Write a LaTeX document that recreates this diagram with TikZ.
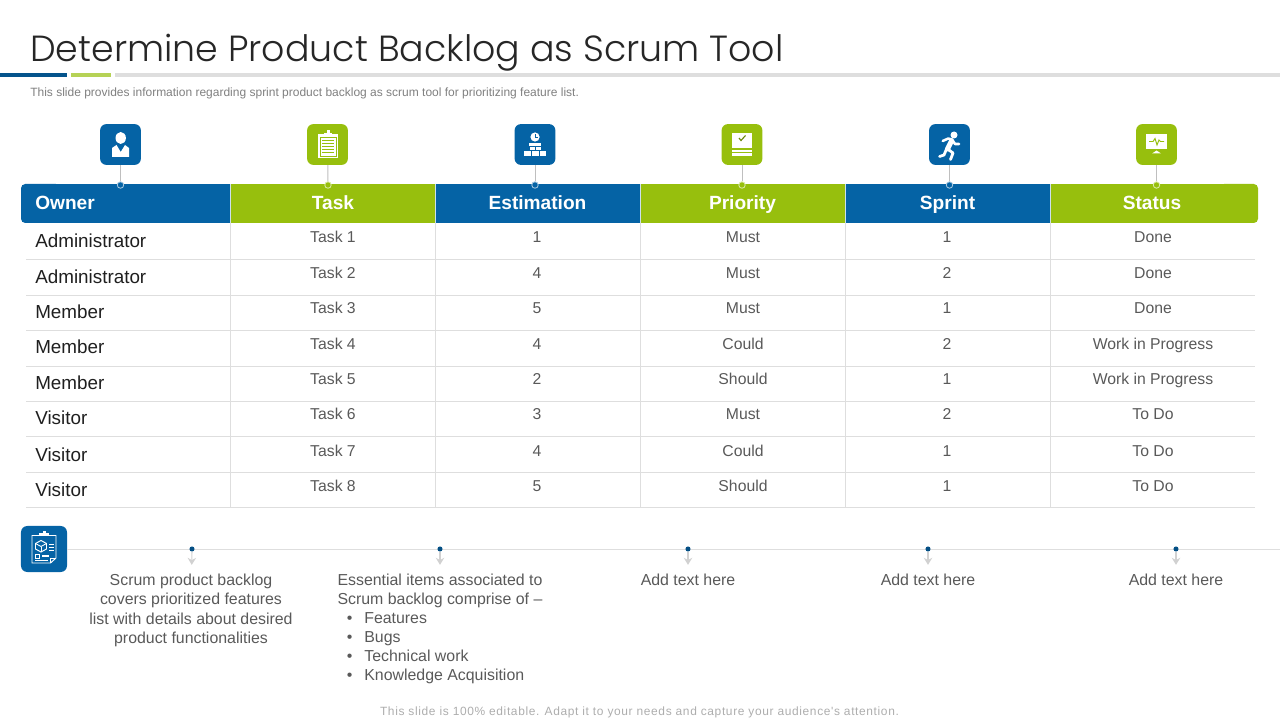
\documentclass[tikz,border=0pt]{standalone}
\usepackage{fontspec}
\usepackage{xcolor}
\setmainfont{Liberation Sans}
\newfontfamily\titlefont[UprightFont={* Light}]{Poppins}
\newfontfamily\footfont[LetterSpace=5.3]{Liberation Sans}
\usetikzlibrary{positioning,calc,arrows.meta}
\definecolor{scrumblue}{HTML}{0563A5}
\definecolor{scrumgreen}{HTML}{97BF0D}
\definecolor{rulegray}{HTML}{DEDEDE}
\definecolor{celltext}{HTML}{595959}
\tikzset{
    cell/.style={anchor=base,inner sep=0pt,text=celltext,font=\fontsize{11.2}{13.5}\selectfont},
    owner/.style={anchor=base west,inner sep=0pt,text=black!88,font=\fontsize{13.4}{16}\selectfont},
    headcell/.style={anchor=base,inner sep=0pt,text=white,font=\fontsize{13.6}{16}\selectfont\bfseries},
    note/.style={anchor=north,inner sep=0pt,align=center,text=celltext,font=\fontsize{11.3}{13.65}\selectfont},
    iconbox/.style={draw=none,rounded corners=4.5pt,minimum size=1.02cm,inner sep=0pt},
    pin/.style={circle,draw=#1!35!white,fill=#1,line width=.6pt,minimum size=4.6pt,inner sep=0pt},
    marker/.style={circle,fill=scrumblue!80!black,minimum size=3.6pt,inner sep=0pt},
    stem/.style={draw=black!25,line width=.7pt},
    tablerule/.style={draw=rulegray,line width=.7pt},
    droparrow/.style={draw=black!18,line width=.8pt,-{Stealth[length=5pt,width=6pt]},shorten >=6.5pt}
}
\begin{document}
\begin{tikzpicture}[x=0.025cm,y=-0.025cm]
        \useasboundingbox (0,0) rectangle (1280,720);
        % title block
        \node[anchor=base west,inner sep=0pt,text=black!85,font=\fontsize{25.85}{30}\selectfont\titlefont] (title) at (30,61.5) {Determine Product Backlog as Scrum Tool};
        \fill[scrumblue!85!black] (0,73) rectangle (67,77);
        \fill[scrumgreen!70!white] (71,73) rectangle (111,77);
        \fill[rulegray] (115,73) rectangle (1280,77);
        \node[anchor=base west,inner sep=0pt,text=black!50,font=\fontsize{8.53}{10}\selectfont] (subtitle) at (30,97) {This slide provides information regarding sprint product backlog as scrum tool for prioritizing feature list.};
        % header band
        \fill[scrumblue,rounded corners=3pt] (21,184) rectangle (60,223);
        \fill[scrumblue] (30,184) rectangle (230,223);
        \fill[scrumgreen] (230,184) rectangle (435,223);
        \fill[scrumblue] (435,184) rectangle (640,223);
        \fill[scrumgreen] (640,184) rectangle (845,223);
        \fill[scrumblue] (845,184) rectangle (1050,223);
        \fill[scrumgreen,rounded corners=3pt] (1220,184) rectangle (1258,223);
        \fill[scrumgreen] (1050,184) rectangle (1250,223);
        \draw[white!80!scrumblue,line width=.5pt] (230,184) -- (230,223);
        \draw[white!80!scrumblue,line width=.5pt] (435,184) -- (435,223);
        \draw[white!80!scrumblue,line width=.5pt] (640,184) -- (640,223);
        \draw[white!80!scrumblue,line width=.5pt] (845,184) -- (845,223);
        \draw[white!80!scrumblue,line width=.5pt] (1050,184) -- (1050,223);
        \node[headcell,anchor=base west] (headOwner) at (35,210) {Owner};
        \node[headcell] (headTask) at (333,210) {Task};
        \node[headcell] (headEstimation) at (537.5,210) {Estimation};
        \node[headcell] (headPriority) at (742.5,210) {Priority};
        \node[headcell] (headSprint) at (947.5,210) {Sprint};
        \node[headcell] (headStatus) at (1152,210) {Status};
        % table rules
        \draw[tablerule] (26,259) -- (1255,259);
        \draw[tablerule] (26,295) -- (1255,295);
        \draw[tablerule] (26,330) -- (1255,330);
        \draw[tablerule] (26,366) -- (1255,366);
        \draw[tablerule] (26,401) -- (1255,401);
        \draw[tablerule] (26,436) -- (1255,436);
        \draw[tablerule] (26,472) -- (1255,472);
        \draw[tablerule] (26,507) -- (1255,507);
        \draw[tablerule] (230,223) -- (230,507);
        \draw[tablerule] (435,223) -- (435,507);
        \draw[tablerule] (640,223) -- (640,507);
        \draw[tablerule] (845,223) -- (845,507);
        \draw[tablerule] (1050,223) -- (1050,507);
        % rows
        \node[owner] (own1) at (35,248) {Administrator};
        \node[cell] (task1) at (333,243) {Task 1};
        \node[cell] (est1) at (537,243) {1};
        \node[cell] (prio1) at (743,243) {Must};
        \node[cell] (spr1) at (947,243) {1};
        \node[cell] (stat1) at (1153,243) {Done};
        \node[owner] (own2) at (35,284) {Administrator};
        \node[cell] (task2) at (333,279) {Task 2};
        \node[cell] (est2) at (537,279) {4};
        \node[cell] (prio2) at (743,279) {Must};
        \node[cell] (spr2) at (947,279) {2};
        \node[cell] (stat2) at (1153,279) {Done};
        \node[owner] (own3) at (35,319) {Member};
        \node[cell] (task3) at (333,314) {Task 3};
        \node[cell] (est3) at (537,314) {5};
        \node[cell] (prio3) at (743,314) {Must};
        \node[cell] (spr3) at (947,314) {1};
        \node[cell] (stat3) at (1153,314) {Done};
        \node[owner] (own4) at (35,354) {Member};
        \node[cell] (task4) at (333,350) {Task 4};
        \node[cell] (est4) at (537,350) {4};
        \node[cell] (prio4) at (743,350) {Could};
        \node[cell] (spr4) at (947,350) {2};
        \node[cell] (stat4) at (1153,350) {Work in Progress};
        \node[owner] (own5) at (35,390) {Member};
        \node[cell] (task5) at (333,385) {Task 5};
        \node[cell] (est5) at (537,385) {2};
        \node[cell] (prio5) at (743,385) {Should};
        \node[cell] (spr5) at (947,385) {1};
        \node[cell] (stat5) at (1153,385) {Work in Progress};
        \node[owner] (own6) at (35,425) {Visitor};
        \node[cell] (task6) at (333,420) {Task 6};
        \node[cell] (est6) at (537,420) {3};
        \node[cell] (prio6) at (743,420) {Must};
        \node[cell] (spr6) at (947,420) {2};
        \node[cell] (stat6) at (1153,420) {To Do};
        \node[owner] (own7) at (35,461) {Visitor};
        \node[cell] (task7) at (333,456) {Task 7};
        \node[cell] (est7) at (537,456) {4};
        \node[cell] (prio7) at (743,456) {Could};
        \node[cell] (spr7) at (947,456) {1};
        \node[cell] (stat7) at (1153,456) {To Do};
        \node[owner] (own8) at (35,496) {Visitor};
        \node[cell] (task8) at (333,491) {Task 8};
        \node[cell] (est8) at (537,491) {5};
        \node[cell] (prio8) at (743,491) {Should};
        \node[cell] (spr8) at (947,491) {1};
        \node[cell] (stat8) at (1153,491) {To Do};
        % column icons and their pins
        \node[iconbox,fill=scrumblue] (iconOwner) at (120.5,144.5) {};
        \node[iconbox,fill=scrumgreen] (iconTask) at (327.5,144.5) {};
        \node[iconbox,fill=scrumblue] (iconEstimation) at (535,144.5) {};
        \node[iconbox,fill=scrumgreen] (iconPriority) at (742,144.5) {};
        \node[iconbox,fill=scrumblue] (iconSprint) at (949.5,144.5) {};
        \node[iconbox,fill=scrumgreen] (iconStatus) at (1156.5,144.5) {};
        \node[pin=scrumblue] (pinOwner) at (120.5,185) {};
        \node[pin=scrumgreen] (pinTask) at (328,185) {};
        \node[pin=scrumblue] (pinEstimation) at (535,185) {};
        \node[pin=scrumgreen] (pinPriority) at (742,185) {};
        \node[pin=scrumblue] (pinSprint) at (949.5,185) {};
        \node[pin=scrumgreen] (pinStatus) at (1156.5,185) {};
        \draw[stem] (iconOwner) -- (pinOwner);
        \draw[stem] (iconTask) -- (pinTask);
        \draw[stem] (iconEstimation) -- (pinEstimation);
        \draw[stem] (iconPriority) -- (pinPriority);
        \draw[stem] (iconSprint) -- (pinSprint);
        \draw[stem] (iconStatus) -- (pinStatus);
        % person
        \fill[white] (120.7,138) ellipse (5.2 and 6);
        \fill[white] (112,157) -- (112,148) -- (116.5,145) -- (120.7,152) -- (125,145) -- (129,148) -- (129,157) -- cycle;
        % clipboard
        \fill[white] (318,134) rectangle (338,158);
        \fill[white] (324,133) rectangle (332,136);
        \fill[white] (326.5,130.5) rectangle (329.5,134);
        \draw[scrumgreen,line width=.4pt] (320,137) rectangle (336,156);
        \draw[scrumgreen,line width=.6pt] (322,140.5) -- (334,140.5);
        \draw[scrumgreen,line width=.6pt] (322,143.5) -- (334,143.5);
        \draw[scrumgreen,line width=.6pt] (322,146.5) -- (334,146.5);
        \draw[scrumgreen,line width=.6pt] (322,149.5) -- (334,149.5);
        \draw[scrumgreen,line width=.6pt] (322,152.5) -- (334,152.5);
        % clock and bricks
        \fill[white] (535,137) circle (4.6);
        \draw[scrumblue,line width=.5pt] (535,134.5) -- (535,137.3) -- (537.5,137.3);
        \fill[white] (529,143) rectangle (541,146);
        \fill[white] (530,147) rectangle (535,150);
        \fill[white] (536,147) rectangle (541,150);
        \fill[white] (524,151) rectangle (531,156);
        \fill[white] (532,151) rectangle (538.5,156);
        \fill[white] (539.5,151) rectangle (546,156);
        % stacked sheets
        \fill[white] (732,133) rectangle (752,148);
        \fill[white] (732,150) rectangle (752,152.5);
        \fill[white] (732,153.5) rectangle (752,156);
        \draw[scrumgreen!70!black,line width=.8pt] (739,138) -- (741,140.5) -- (745.5,135.5);
        % runner
        \fill[white] (954,135) circle (3.5);
        \draw[white,line width=3.6pt,line cap=round,line join=round] (951.5,141) -- (947.5,149);
        \draw[white,line width=1.8pt,line cap=round,line join=round] (942.7,141) -- (948.3,138.5) -- (952,139.5) -- (955,144) -- (959,144);
        \draw[white,line width=2pt,line cap=round,line join=round] (947.5,149) -- (953,153) -- (950.5,159.5);
        \draw[white,line width=2pt,line cap=round,line join=round] (946.5,149) -- (944,155) -- (939.5,156.5);
        % monitor
        \fill[white] (1146,134) rectangle (1167,149);
        \fill[white] (1152,153.5) -- (1156.5,150.5) -- (1161,153.5) -- cycle;
        \draw[scrumgreen,line width=.7pt] (1149,141.5) -- (1153,141.5) -- (1155,138.5) -- (1157,145) -- (1159,140) -- (1160.5,141.5) -- (1164,141.5);
        % lower strip
        \node[iconbox,fill=scrumblue,minimum size=1.15cm] (iconNotes) at (44,549) {};
        \coordinate (stripEnd) at (1280,549);
        \draw[stem,draw=rulegray] (iconNotes) -- (stripEnd);
        \draw[white,line width=.7pt] (32,535.5) -- (56,535.5) -- (56,558) -- (50.5,563) -- (32,563) -- cycle;
        \fill[white] (38.5,533) rectangle (49,536);
        \fill[white] (42.5,530.5) rectangle (45.5,533);
        \draw[white,line width=.6pt] (50.5,563) -- (50.5,558) -- (56,558);
        \draw[white,line width=.7pt] (41,540.5) -- (46.5,543.5) -- (46.5,549) -- (41,552) -- (35.5,549) -- (35.5,543.5) -- cycle;
        \draw[white,line width=.6pt] (35.5,543.5) -- (41,546.5) -- (46.5,543.5);
        \draw[white,line width=.6pt] (41,546.5) -- (41,552);
        \draw[white,line width=.7pt] (49,544) -- (54,544);
        \draw[white,line width=.7pt] (49,547) -- (54,547);
        \draw[white,line width=.7pt] (49,550) -- (54,550);
        \draw[white,line width=.7pt] (35,554) rectangle (39,558);
        \draw[white,line width=.9pt] (42,556) -- (49,556);
        \draw[white,line width=.7pt] (35,560.5) -- (48,560.5);
        \node[marker] (markA) at (192,549) {};
        \node[marker] (markB) at (440,549) {};
        \node[marker] (markC) at (688,549) {};
        \node[marker] (markD) at (928,549) {};
        \node[marker] (markE) at (1176,549) {};
        \node[note] (noteA) at (191,574) {Scrum product backlog\\covers prioritized features\\list with details about desired\\product functionalities};
        \node[note] (noteB) at (440,574) {Essential items associated to\\Scrum backlog comprise of --};
        \node[note,align=left,anchor=north west] (noteBlist) at (344.5,612) {\makebox[13.9pt][l]{\hspace{1.5pt}•}Features\\\makebox[13.9pt][l]{\hspace{1.5pt}•}Bugs\\\makebox[13.9pt][l]{\hspace{1.5pt}•}Technical work\\\makebox[13.9pt][l]{\hspace{1.5pt}•}Knowledge Acquisition};
        \node[note] (noteC) at (688,574) {Add text here};
        \node[note] (noteD) at (928,574) {Add text here};
        \node[note] (noteE) at (1176,574) {Add text here};
        \draw[droparrow] (markA) -- (noteA);
        \draw[droparrow] (markB) -- (noteB);
        \draw[droparrow] (markC) -- (noteC);
        \draw[droparrow] (markD) -- (noteD);
        \draw[droparrow] (markE) -- (noteE);
        % footer line
        \node[anchor=base,inner sep=0pt,text=black!32,font=\fontsize{8.5}{10}\selectfont\footfont] (footer) at (639.5,715) {This slide is 100\% editable. Adapt it to your needs and capture your audience's attention.};
    \end{tikzpicture}
\end{document}
